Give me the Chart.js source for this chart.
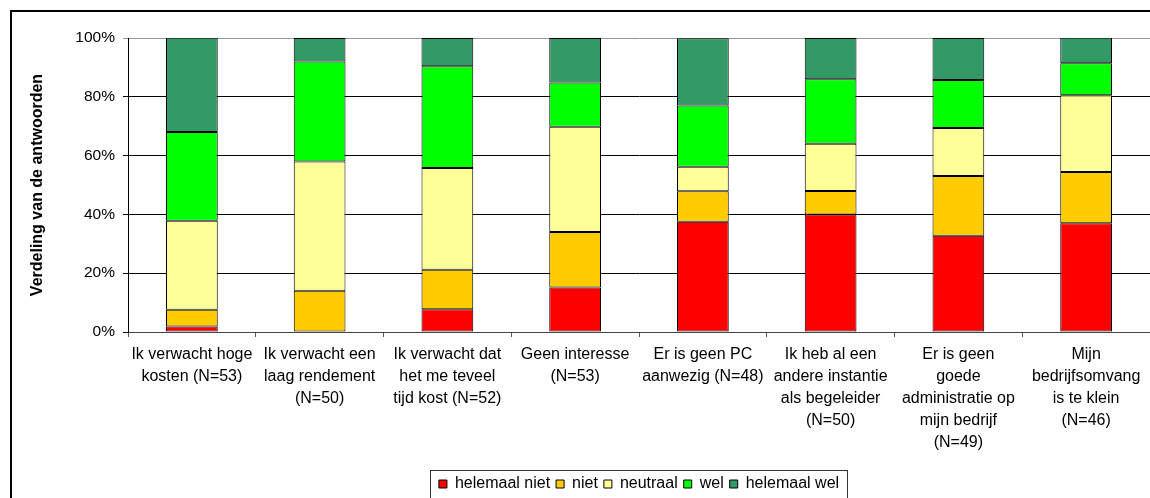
<!DOCTYPE html>
<html>
<head>
<meta charset="utf-8">
<script src="https://cdn.jsdelivr.net/npm/chart.js@4.4.1/dist/chart.umd.min.js"></script>
<style>
  html, body { margin: 0; padding: 0; background: #fff; overflow: hidden; }
  #wrap { position: absolute; left: 0; top: 0; width: 1150px; height: 502px; }
</style>
</head>
<body>
<div id="wrap"><canvas id="chart"></canvas></div>
<script>
// Categorieen (labels over meerdere regels)
const categories = [
  ['Ik verwacht hoge', 'kosten (N=53)'],
  ['Ik verwacht een', 'laag rendement', '(N=50)'],
  ['Ik verwacht dat', 'het me teveel', 'tijd kost (N=52)'],
  ['Geen interesse', '(N=53)'],
  ['Er is geen PC', 'aanwezig (N=48)'],
  ['Ik heb al een', 'andere instantie', 'als begeleider', '(N=50)'],
  ['Er is geen', 'goede', 'administratie op', 'mijn bedrijf', '(N=49)'],
  ['Mijn', 'bedrijfsomvang', 'is te klein', '(N=46)']
];

// Verdeling van de antwoorden in %
const helemaalNiet = [1.9, 0, 7.7, 15.1, 37.5, 40, 32.7, 37.0];
const niet = [5.7, 14, 13.5, 18.9, 10.4, 8, 20.4, 17.4];
const neutraal = [30.2, 44, 34.6, 35.8, 8.3, 16, 16.3, 26.1];
const wel = [30.2, 34, 34.6, 15.1, 20.8, 22, 16.3, 10.9];
const helemaalWel = [32.1, 8, 9.6, 15.1, 22.9, 14, 14.3, 8.7];

const seriesNames = ['helemaal niet', 'niet', 'neutraal', 'wel', 'helemaal wel'];
const seriesColors = ['#ff0000', '#ffcc00', '#ffff99', '#00ff00', '#339966'];
const yTicks = [0, 20, 40, 60, 80, 100];

const FONT = '"Liberation Sans", Arial, sans-serif';

function makeDataset(i, values) {
  return {
    label: seriesNames[i],
    data: values,
    backgroundColor: seriesColors[i],
    borderColor: '#000',
    borderWidth: 1,
    borderSkipped: false,
    barPercentage: 0.405,
    categoryPercentage: 1
  };
}

// kader om de hele grafiek + kader om de legenda
const framePlugin = {
  id: 'frames',
  afterDraw(chart) {
    const ctx = chart.ctx;
    ctx.save();
    ctx.strokeStyle = '#000';
    ctx.lineWidth = 2;
    ctx.beginPath();
    ctx.moveTo(11, 600);
    ctx.lineTo(11, 11);
    ctx.lineTo(1200, 11);
    ctx.stroke();

    const boxes = chart.legend.legendHitBoxes;
    if (boxes && boxes.length) {
      const first = boxes[0];
      const last = boxes[boxes.length - 1];
      const left = Math.round(first.left) - 8.5;
      const right = Math.round(last.left + last.width) + 8.5;
      const top = chart.legend.top + 0.5;
      ctx.lineWidth = 1;
      ctx.strokeStyle = '#333';
      ctx.strokeRect(left, top, right - left, 60);
    }
    ctx.restore();
  }
};

const ctx = document.getElementById('chart').getContext('2d');

new Chart(ctx, {
  type: 'bar',
  data: {
    labels: categories,
    datasets: [
      makeDataset(0, helemaalNiet),
      makeDataset(1, niet),
      makeDataset(2, neutraal),
      makeDataset(3, wel),
      makeDataset(4, helemaalWel)
    ]
  },
  options: {
    responsive: true,
    maintainAspectRatio: false,
    animation: false,
    layout: {
      padding: { top: 38, right: 0, bottom: 0, left: 0 }
    },
    scales: {
      x: {
        stacked: true,
        grid: {
          offset: true,
          drawOnChartArea: false,
          color: '#555',
          tickLength: 5
        },
        border: { color: '#444', width: 1 },
        ticks: {
          color: '#000',
          font: { family: FONT, size: 16, lineHeight: 1.375 },
          padding: 7,
          maxRotation: 0,
          autoSkip: false
        },
        afterFit: function(scale) {
          scale.height = 138;
        }
      },
      y: {
        stacked: true,
        min: 0,
        max: 100,
        afterBuildTicks: function(scale) {
          scale.ticks = yTicks.map(v => ({ value: v }));
        },
        grid: {
          color: function(c) {
            return c.tick && c.tick.value === 100 ? '#999' : '#000';
          },
          lineWidth: 1,
          tickLength: 5
        },
        border: { color: '#000', width: 1 },
        ticks: {
          color: '#000',
          font: { family: FONT, size: 15.5 },
          padding: 8,
          callback: function(value) {
            return value + '%';
          }
        },
        title: {
          display: true,
          text: 'Verdeling van de antwoorden',
          color: '#000',
          font: { family: FONT, size: 16, weight: 'bold' },
          padding: { top: 28, bottom: 0 }
        },
        afterFit: function(scale) {
          scale.width = 128;
        }
      }
    },
    plugins: {
      legend: {
        display: true,
        position: 'bottom',
        fullSize: false,
        labels: {
          color: '#000',
          font: { family: FONT, size: 16 },
          boxWidth: 8,
          boxHeight: 8,
          padding: 6
        }
      },
      tooltip: { enabled: false }
    }
  },
  plugins: [framePlugin]
});
</script>
</body>
</html>
